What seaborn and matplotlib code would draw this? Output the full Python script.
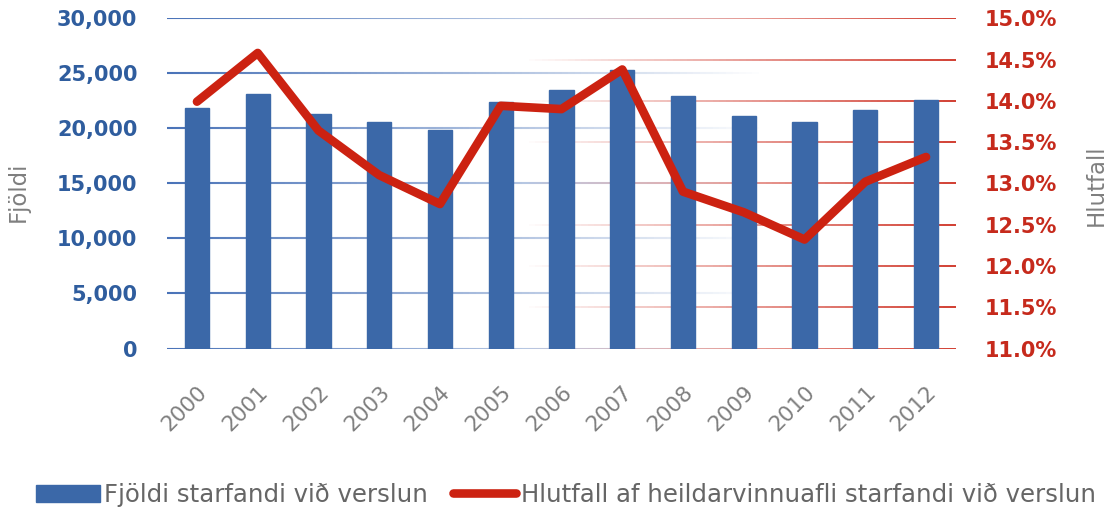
import numpy as np
import matplotlib
matplotlib.use("Agg")
import matplotlib.pyplot as plt
from matplotlib.collections import LineCollection
from matplotlib.transforms import blended_transform_factory
from matplotlib.ticker import FuncFormatter, MultipleLocator
import seaborn as sns

years = ["2000", "2001", "2002", "2003", "2004", "2005", "2006",
         "2007", "2008", "2009", "2010", "2011", "2012"]
fjoldi = [21840, 23140, 21290, 20560, 19840, 22410, 23500,
          25320, 22930, 21110, 20560, 21650, 22560]
hlutfall = [13.99, 14.58, 13.64, 13.10, 12.75, 13.94, 13.90,
            14.38, 12.90, 12.65, 12.32, 13.02, 13.32]

bar_label = "Fjöldi starfandi við verslun"
line_label = "Hlutfall af heildarvinnuafli starfandi við verslun"

blue = "#3b68a8"
blue_txt = "#2f5d9e"
red = "#cc2211"
red_txt = "#c62a1c"
grey = "#7f7f7f"

sns.set_theme(style="white")
plt.rcParams["font.family"] = ["DejaVu Sans"]

fig = plt.figure(figsize=(11.12, 5.12), dpi=100)
ax = fig.add_axes([0.1498, 0.3193, 0.8601 - 0.1498, 0.9643 - 0.3193])
ax2 = ax.twinx()

sns.barplot(x=years, y=fjoldi, color=blue, saturation=1, width=0.4, ax=ax)
sns.pointplot(x=years, y=hlutfall, color=red, markers="", linestyles="-",
              errorbar=None, ax=ax2, linewidth=6.2, solid_capstyle="round")
for p in ax.patches:
    p.set_zorder(3)
    p.set_edgecolor(blue)

ax.set_ylim(0, 30000)
ax2.set_ylim(11, 15)
ax.set_xlim(-0.5, len(years) - 0.5)
ax.yaxis.set_major_locator(MultipleLocator(5000))
ax2.yaxis.set_major_locator(MultipleLocator(0.5))
ax.yaxis.set_major_formatter(FuncFormatter(lambda v, p: f"{v:,.0f}"))
ax2.yaxis.set_major_formatter(FuncFormatter(lambda v, p: f"{v:.1f}%"))

# gradient grid lines: blue fades to the right, red fades to the left
n = 120
xs = np.linspace(0, 1, n + 1)
for yv in np.arange(0, 30001, 5000):
    segs = [[(xs[i], yv), (xs[i + 1], yv)] for i in range(n)]
    a = np.clip(1 - xs[:-1] / 0.75, 0, 1)
    cols = [(0.29, 0.45, 0.72, ai) for ai in a]
    ax.add_collection(LineCollection(segs, colors=cols, linewidths=1.5,
                                     transform=ax.get_yaxis_transform(), zorder=0.5))
red_tr = blended_transform_factory(ax.transAxes, ax2.transData)
for yv in np.arange(11, 15.01, 0.5):
    segs = [[(xs[i], yv), (xs[i + 1], yv)] for i in range(n)]
    a = np.clip((xs[:-1] - 0.45) / 0.55, 0, 1)
    cols = [(0.82, 0.23, 0.18, ai) for ai in a]
    ax.add_collection(LineCollection(segs, colors=cols, linewidths=1.4,
                                     transform=red_tr, zorder=0.5))

for a_ in (ax, ax2):
    for s in a_.spines.values():
        s.set_visible(False)
    a_.grid(False)

ax.tick_params(axis="y", length=0, pad=21, labelsize=15, labelcolor=blue_txt)
ax2.tick_params(axis="y", length=0, pad=20, labelsize=15, labelcolor=red_txt)
for lab in ax.get_yticklabels() + ax2.get_yticklabels():
    lab.set_fontweight("bold")

ax.tick_params(axis="x", length=0, pad=24, labelsize=15.5, labelcolor=grey,
               labelrotation=45)
for lab in ax.get_xticklabels():
    lab.set_ha("right")
    lab.set_va("top")
    lab.set_rotation_mode("anchor")

ax.set_ylabel("Fjöldi", fontsize=16.5, color=grey)
ax.yaxis.set_label_coords(-0.173, 0.474)
ax2.set_ylabel("Hlutfall", fontsize=16.5, color=grey)
ax2.yaxis.set_label_coords(1.163, 0.495)

handles = [ax.patches[0], ax2.lines[0]]
for a_ in (ax, ax2):
    if a_.get_legend() is not None:
        a_.get_legend().remove()
fig.legend(handles, [bar_label, line_label], loc="center left",
           bbox_to_anchor=(0.0324, 0.033), ncol=2, frameon=False,
           fontsize=17.6, labelcolor="#666666", handlelength=2.6,
           handleheight=0.72, handletextpad=0.2, columnspacing=1.0,
           borderpad=0, borderaxespad=0)

fig.savefig("out.png", dpi=100)
